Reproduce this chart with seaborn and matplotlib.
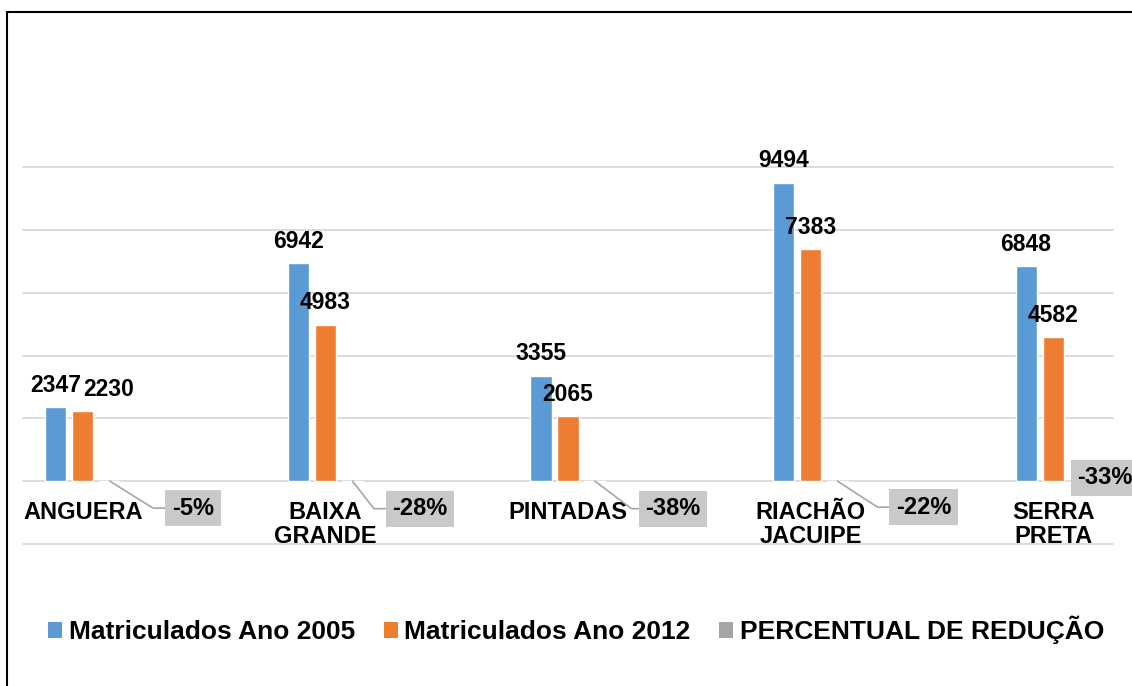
import numpy as np
import pandas as pd
import matplotlib.pyplot as plt
import seaborn as sns
from matplotlib.patches import Rectangle

# Dados do gráfico
municipios = ['ANGUERA', 'BAIXA\nGRANDE', 'PINTADAS', 'RIACHÃO\nJACUIPE', 'SERRA\nPRETA']
matriculados_2005 = [2347, 6942, 3355, 9494, 6848]
matriculados_2012 = [2230, 4983, 2065, 7383, 4582]
percentual_reducao = [-0.05, -0.28, -0.38, -0.22, -0.33]
series = ['Matriculados Ano 2005', 'Matriculados Ano 2012', 'PERCENTUAL DE REDUÇÃO']
cores = ['#5b9bd5', '#ed7d31', '#a5a5a5']

df = pd.DataFrame({
    'municipio': municipios * 3,
    'serie': [s for s in series for _ in municipios],
    'valor': matriculados_2005 + matriculados_2012 + percentual_reducao,
})

sns.set_style('white')
plt.rcParams['font.family'] = ['Liberation Sans', 'DejaVu Sans']
plt.rcParams['font.weight'] = 'bold'
plt.rcParams['text.color'] = 'black'
plt.rcParams['xtick.color'] = 'black'
plt.rcParams['axes.labelcolor'] = 'black'

W, H = 1132, 686
fig = plt.figure(figsize=(W / 100, H / 100), dpi=100)
ax = fig.add_axes([23 / W, 142 / H, 1090 / W, 377 / H])

sns.barplot(data=df, x='municipio', y='valor', hue='serie', order=municipios,
            hue_order=series, palette=cores, saturation=1, width=0.334, gap=0.22,
            errorbar=None, legend=False, ax=ax)

ax.set_xlim(-0.247, 4.247)
ax.set_ylim(-2000, 10000)
ax.set_yticks(np.arange(-2000, 10001, 2000))
ax.yaxis.grid(True, color='#d9d9d9', linewidth=1.3)
for line in ax.get_ygridlines():
    line.set_clip_on(False)
ax.set_axisbelow(True)
ax.tick_params(axis='y', left=False, labelleft=False)
for s in ax.spines.values():
    s.set_visible(False)
ax.spines['bottom'].set_position(('data', 0))
ax.tick_params(axis='x', length=0, pad=14, labelsize=17, labelcolor='black')
for t in ax.get_xticklabels():
    t.set_linespacing(1.05)
ax.set_xlabel('')
ax.set_ylabel('')

# rótulos de valor (2005 e 2012)
label_shift = {(1, 0): 26}
for j, cont in enumerate(ax.containers[:2]):
    bars = sorted(cont, key=lambda b: b.get_x())
    for i, bar in enumerate(bars):
        ax.annotate(f'{bar.get_height():.0f}',
                    (bar.get_x() + bar.get_width() / 2, bar.get_height()),
                    xytext=(label_shift.get((j, i), 0), 22), textcoords='offset pixels',
                    ha='center', va='center', fontsize=16.5, fontweight='bold',
                    color='black')

# rótulos do percentual de redução
perc_offsets = [(83, -27), (67.5, -27.5), (78, -27.5), (86, -26), (25, 3.5)]
leader_angles = [-32, -52, -37, -33, None]
bars = sorted(ax.containers[2], key=lambda b: b.get_x())
for i, bar in enumerate(bars):
    arrow = None
    if leader_angles[i] is not None:
        arrow = dict(arrowstyle='-', color='#a6a6a6', lw=1.2, shrinkA=0, shrinkB=0,
                     connectionstyle=f'angle,angleA=0,angleB={leader_angles[i]},rad=0')
    ax.annotate(f'{bar.get_height():.0%}', (bar.get_x() + bar.get_width() / 2, 0),
                xytext=perc_offsets[i], textcoords='offset pixels',
                ha='center', va='center', fontsize=17, fontweight='bold', color='black',
                bbox=dict(boxstyle='square,pad=0.28', fc='#c9c9c9', ec='none'),
                arrowprops=arrow)

handles = [Rectangle((0, 0), 1, 1, facecolor=c, edgecolor='none') for c in cores]
fig.legend(handles, series, loc='center', bbox_to_anchor=(0.509, 0.0816), ncol=3,
           frameon=False, prop={'size': 19, 'weight': 'bold'}, handlelength=0.53,
           handleheight=0.53, handletextpad=0.24, columnspacing=1.1, borderaxespad=0,
           labelcolor='black')

# moldura do gráfico
fig.patches.append(Rectangle((7 / W, -0.1), 1.2, 1 - 12 / H + 0.1, transform=fig.transFigure,
                             fill=False, edgecolor='black', linewidth=1.5, clip_on=False))

fig.savefig('out.png', dpi=100)
